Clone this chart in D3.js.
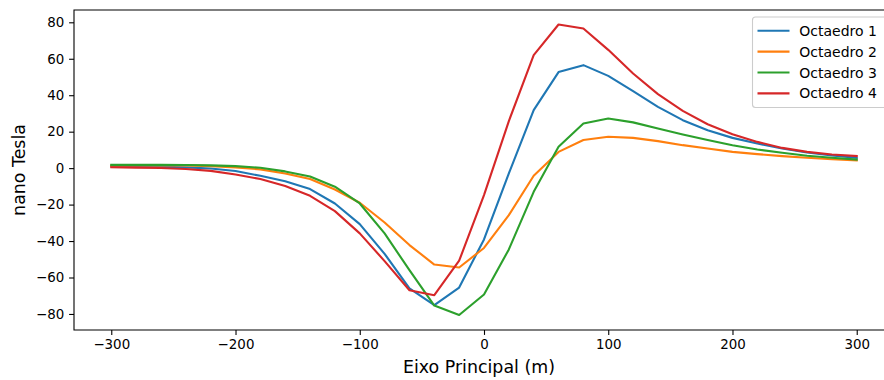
<!DOCTYPE html>
<html>
<head>
<meta charset="utf-8">
<script src="https://cdn.jsdelivr.net/npm/d3@7"></script>
<style>
  body { margin: 0; background: #fff; }
  svg { display: block; font-family: "DejaVu Sans", sans-serif; }
</style>
</head>
<body>
<svg id="chart" width="884" height="380"></svg>
<script>
// eixo principal (m)
var xs = [-300, -280, -260, -240, -220, -200, -180, -160, -140, -120, -100, -80, -60, -40, -20,
          0, 20, 40, 60, 80, 100, 120, 140, 160, 180, 200, 220, 240, 260, 280, 300];

// campo em nano Tesla
var oct1 = [1.0, 0.9, 0.7, 0.4, -0.2, -1.6, -4.2, -7.2, -11.5, -19.4, -30.7, -47, -66, -75.1, -65.5,
            -39.1, -2.9, 31.8, 52.7, 56.5, 50.6, 42.2, 33.6, 26.3, 20.8, 16.6, 13.5, 10.8, 8.6, 6.9, 5.7];
var oct2 = [1.4, 1.5, 1.5, 1.5, 1.1, 0.4, -0.7, -2.9, -6, -11.7, -19, -29.8, -42.2, -52.9, -54.5,
            -43.8, -25.8, -4.2, 8.9, 15.4, 17.2, 16.6, 14.8, 12.6, 10.8, 8.9, 7.7, 6.6, 5.7, 4.9, 4.2];
var oct3 = [1.8, 1.8, 1.8, 1.7, 1.5, 1.1, 0.2, -1.8, -4.6, -10.2, -19.4, -35.8, -56, -75.4, -80.6,
            -69.3, -44.6, -13, 11.7, 24.5, 27.2, 25.1, 21.7, 18.5, 15.4, 12.6, 10.2, 8.4, 6.8, 5.7, 4.7];
var oct4 = [0.5, 0.3, 0.1, -0.5, -1.5, -3.5, -6, -9.8, -15.2, -23.6, -35.8, -51, -67, -69.7, -50.8,
            -14.8, 25.8, 62, 78.8, 76.6, 64.9, 51.9, 40.6, 31.4, 24.1, 18.6, 14.4, 11.1, 8.9, 7.5, 6.6];

var seriesNames = ["Octaedro 1", "Octaedro 2", "Octaedro 3", "Octaedro 4"];
var xTicks = [-300, -200, -100, 0, 100, 200, 300];
var yTicks = [-80, -60, -40, -20, 0, 20, 40, 60, 80];

var colors = ["#1f77b4", "#ff7f0e", "#2ca02c", "#d62728"];
var allSeries = [oct1, oct2, oct3, oct4];

// plot box (right edge sits just past the picture)
var plotL = 74, plotR = 894, plotT = 10, plotB = 330;

var svg = d3.select("#chart");

var x = d3.scaleLinear().domain([-330, 330]).range([plotL, plotR]);
var y = d3.scaleLinear().domain([-88.8, 86.75]).range([plotB, plotT]);

// lines
var line = d3.line()
    .x(function(d, i) { return x(xs[i]); })
    .y(function(d) { return y(d); });

allSeries.forEach(function(s, k) {
  svg.append("path")
     .datum(s)
     .attr("fill", "none")
     .attr("stroke", colors[k])
     .attr("stroke-width", 2.1)
     .attr("stroke-linejoin", "round")
     .attr("stroke-linecap", "square")
     .attr("d", line);
});

// axes
var xAxis = svg.append("g")
    .attr("transform", "translate(0," + plotB + ")")
    .call(d3.axisBottom(x).tickValues(xTicks).tickSize(4.9).tickPadding(4.9));
var yAxis = svg.append("g")
    .attr("transform", "translate(" + plotL + ",0)")
    .call(d3.axisLeft(y).tickValues(yTicks).tickSize(4.9).tickPadding(4.9));

[xAxis, yAxis].forEach(function(a) {
  a.select(".domain").remove();
  a.selectAll("line").attr("stroke", "#000").attr("stroke-width", 1.1);
  a.selectAll("text").attr("fill", "#000").style("font-size", "13.4px").style("font-family", "DejaVu Sans");
});

// spines
svg.append("path")
   .attr("d", "M" + plotR + "," + plotT + "H" + plotL + "V" + plotB + "H" + plotR)
   .attr("fill", "none")
   .attr("stroke", "#000")
   .attr("stroke-width", 1.1);

// axis labels
svg.append("text")
   .attr("x", (x(-330) + x(330)) / 2 - 5)
   .attr("y", 373)
   .attr("text-anchor", "middle")
   .style("font-size", "17.4px")
   .text("Eixo Principal (m)");

svg.append("text")
   .attr("transform", "translate(25," + (plotT + plotB) / 2 + ") rotate(-90)")
   .attr("text-anchor", "middle")
   .style("font-size", "17.4px")
   .text("nano Tesla");

// legend
var legend = svg.append("g");
legend.append("rect")
      .attr("x", 752.5).attr("y", 17)
      .attr("width", 135).attr("height", 90.5)
      .attr("rx", 3)
      .attr("fill", "#fff").attr("fill-opacity", 0.8)
      .attr("stroke", "#cccccc").attr("stroke-width", 1.1);

seriesNames.forEach(function(name, k) {
  var ry = 30.7 + k * 20.9;
  legend.append("line")
        .attr("x1", 757.5).attr("x2", 789.5)
        .attr("y1", ry).attr("y2", ry)
        .attr("stroke", colors[k]).attr("stroke-width", 2.1);
  legend.append("text")
        .attr("x", 799.3).attr("y", ry)
        .attr("dy", "0.36em")
        .style("font-size", "14px")
        .text(name);
});
</script>
</body>
</html>
